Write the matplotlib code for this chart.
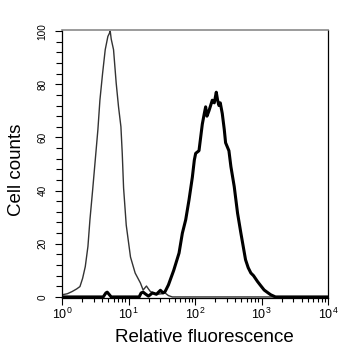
import numpy as np
import matplotlib
matplotlib.use("Agg")
import matplotlib.pyplot as plt
from matplotlib.ticker import FixedLocator, NullFormatter

plt.rcParams['font.family'] = ['Liberation Sans', 'DejaVu Sans']
plt.rcParams['mathtext.default'] = 'regular'

# Control (thin line): log10 fluorescence positions and counts
ctrl_log = [0.0, 0.08, 0.15, 0.22, 0.27, 0.31, 0.35, 0.39, 0.42, 0.46, 0.50, 0.54,
            0.57, 0.61, 0.65, 0.69, 0.71, 0.725, 0.74, 0.775, 0.815, 0.85, 0.886,
            0.906, 0.926, 0.966, 1.03, 1.10, 1.18, 1.22, 1.27, 1.30, 1.33, 1.43,
            1.50, 1.55, 1.60, 1.66, 4.0]
ctrl_val = [0.8, 1.2, 2.0, 3.0, 3.9, 7.0, 11.4, 19.0, 29.0, 40.0, 51.5, 63.0,
            74.0, 84.0, 93.0, 98.0, 99.0, 100.0, 97.0, 93.0, 80.4, 71.5, 64.0,
            54.0, 41.0, 27.0, 15.0, 9.0, 5.2, 2.6, 4.1, 3.0, 2.0, 1.0,
            1.2, 1.5, 0.5, 0.0, 0.0]

# Sample (thick line)
samp_log = [0.0, 0.62, 0.66, 0.68, 0.70, 0.74, 1.16, 1.19, 1.22, 1.25, 1.30, 1.36,
            1.42, 1.48, 1.52, 1.55, 1.60, 1.68, 1.76, 1.81, 1.86, 1.91, 1.96, 1.99,
            2.01, 2.06, 2.11, 2.14, 2.16, 2.18, 2.21, 2.26, 2.29, 2.32, 2.34, 2.36,
            2.38, 2.41, 2.44, 2.46, 2.51, 2.54, 2.59, 2.64, 2.69, 2.76, 2.80, 2.84,
            2.88, 2.94, 2.98, 3.04, 3.10, 3.14, 3.21, 4.0]
samp_val = [0.0, 0.0, 1.5, 1.8, 1.2, 0.0, 0.0, 1.5, 1.8, 1.2, 0.3, 1.5,
            1.0, 2.5, 1.5, 2.0, 4.5, 10.0, 16.5, 24.0, 29.0, 36.5, 45.0, 51.5,
            54.0, 55.0, 65.0, 69.0, 71.5, 68.0, 70.0, 74.0, 73.0, 77.0, 74.0, 72.0,
            73.0, 69.0, 63.0, 58.0, 55.0, 49.0, 41.5, 31.5, 24.0, 14.0, 11.0, 9.0,
            8.0, 5.8, 4.5, 2.6, 1.5, 0.8, 0.0, 0.0]

x_ticks = [1, 10, 100, 1000, 10000]
x_tick_labels = ['$10^{0}$', '$10^{1}$', '$10^{2}$', '$10^{3}$', '$10^{4}$']
y_ticks = [0, 20, 40, 60, 80, 100]

fig = plt.figure(figsize=(3.57, 3.57), dpi=100)
ax = fig.add_axes([62/357, 1-298/357, (328-62)/357, (298-30)/357])

ax.plot(10**np.array(ctrl_log), ctrl_val, color='#333333', lw=1.0)
ax.plot(10**np.array(samp_log), samp_val, color='black', lw=2.2)

ax.set_xscale('log')
ax.set_xlim(1, 10000)
ax.set_ylim(-0.4, 100.4)

ax.xaxis.set_major_locator(FixedLocator(x_ticks))
minors = [m * 10**d for d in range(4) for m in range(2, 10)]
ax.xaxis.set_minor_locator(FixedLocator(minors))
ax.xaxis.set_minor_formatter(NullFormatter())
ax.set_xticklabels(x_tick_labels)
ax.yaxis.set_major_locator(FixedLocator(y_ticks))
ax.yaxis.set_minor_locator(FixedLocator([v for v in range(0, 101, 4) if v % 20]))

ax.tick_params(axis='x', which='major', direction='out', length=5, width=0.8, labelsize=9, pad=1)
ax.tick_params(axis='x', which='minor', direction='out', length=3, width=0.8)
ax.tick_params(axis='y', which='major', direction='out', length=5, width=0.8, labelsize=7.2, pad=5.5)
ax.tick_params(axis='y', which='minor', direction='out', length=4, width=0.8)
for lab in ax.get_yticklabels():
    lab.set_rotation(90)
    lab.set_va('center')

ax.spines['top'].set_color('#8a8a8a')
ax.spines['top'].set_linewidth(1.2)
for s in ['left', 'right', 'bottom']:
    ax.spines[s].set_color('black')
    ax.spines[s].set_linewidth(0.9)

fig.text(204/357, 1-338/357, 'Relative fluorescence', ha='center', va='center', fontsize=13.5)
fig.text(17/357, 1-170/357, 'Cell counts', ha='center', va='center', rotation=90, fontsize=13.5)

fig.savefig('out.png', dpi=100)
